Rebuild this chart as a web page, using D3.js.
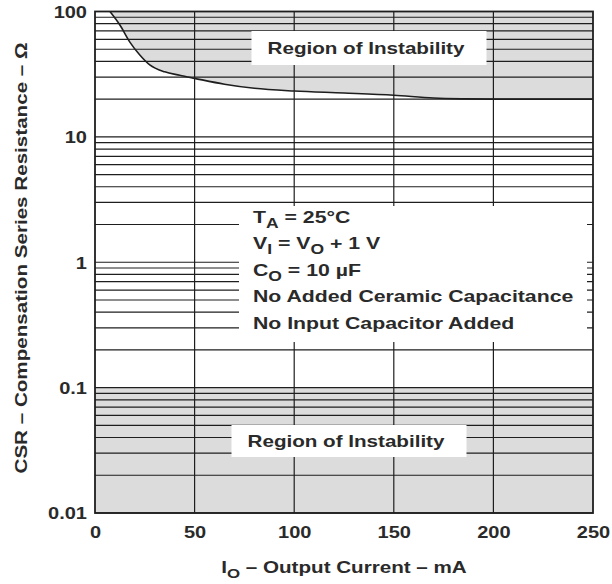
<!DOCTYPE html>
<html>
<head>
<meta charset="utf-8">
<script src="https://cdn.jsdelivr.net/npm/d3@7/dist/d3.min.js"></script>
<style>
  html, body { margin: 0; padding: 0; background: #fff; }
  svg { display: block; }
  text { font-family: "Liberation Sans", Arial, Helvetica, sans-serif; font-weight: bold; fill: #2a2a2a; }
</style>
</head>
<body>
<svg id="chart" width="612" height="584"></svg>
<script>
// ---- data ----
const outputCurrent = [7.5, 12.5, 17.5, 22.5, 27.5, 35, 42.5, 50, 65, 80, 100, 125, 150, 170, 185, 200, 250]; // mA
const csrBoundary   = [100, 78, 57, 45, 37.5, 33, 31, 29.3, 26.3, 24.4, 23.2, 22.4, 21.5, 20.4, 20.1, 20, 20]; // ohm
const lowerInstabilityMax = [0.1];              // CSR below this is unstable
const xTickValues = [0, 50, 100, 150, 200, 250];
const xTickLabels = ["0", "50", "100", "150", "200", "250"];
const yTickValues = [0.01, 0.1, 1, 10, 100];
const yTickLabels = ["0.01", "0.1", "1", "10", "100"];
const conditions = [
  [["T", ""], ["A", "sub"], [" = 25°C", ""]],
  [["V", ""], ["I", "sub"], [" = V", ""], ["O", "sub"], [" + 1 V", ""]],
  [["C", ""], ["O", "sub"], [" = 10 µF", ""]],
  [["No Added Ceramic Capacitance", ""]],
  [["No Input Capacitor Added", ""]]
];
const regionLabel = "Region of Instability";

// ---- layout ----
const L = 95, R = 593, T = 11.5, B = 513;
const SX = 1.25; // horizontal glyph stretch
const svg = d3.select("#chart");
svg.append("rect").attr("width", 612).attr("height", 584).attr("fill", "#fff");

const x = d3.scaleLinear().domain([0, 250]).range([L, R]);
const y = d3.scaleLog().domain([0.01, 100]).range([B, T]);

const gray = "#dcdcdc", ink = "#1e1e1e";

// upper instability region (above curve)
const pts = outputCurrent.map((d, i) => ({ i: d, r: csrBoundary[i] }));
const area = d3.area().x(d => x(d.i)).y0(y(100)).y1(d => y(d.r)).curve(d3.curveMonotoneX);
svg.append("path").datum(pts).attr("d", area).attr("fill", gray);
// lower instability region
svg.append("rect")
  .attr("x", x(0)).attr("width", x(250) - x(0))
  .attr("y", y(lowerInstabilityMax[0])).attr("height", y(0.01) - y(lowerInstabilityMax[0]))
  .attr("fill", gray);

// gridlines
const grid = svg.append("g").attr("stroke", ink).attr("stroke-width", 1.2);
grid.selectAll("line.h").data(y.ticks()).join("line")
  .attr("x1", L).attr("x2", R).attr("y1", d => y(d)).attr("y2", d => y(d));
grid.selectAll("line.v").data(xTickValues.slice(1, -1)).join("line")
  .attr("y1", T).attr("y2", B).attr("x1", d => x(d)).attr("x2", d => x(d));

// white label boxes
svg.append("rect").attr("x", 251.5).attr("y", 31).attr("width", 235).attr("height", 34).attr("fill", "#fff");
svg.append("rect").attr("x", 231.5).attr("y", 425).attr("width", 235).attr("height", 32).attr("fill", "#fff");
svg.append("rect").attr("x", 239).attr("y", 206).attr("width", 348).attr("height", 136).attr("fill", "#fff");

// region labels
function stretchedText(cx, cy, str, size, anchor) {
  return svg.append("text").attr("transform", `translate(${cx},${cy}) scale(${SX},1)`)
    .attr("text-anchor", anchor || "middle").attr("font-size", size).text(str);
}
stretchedText(366, 54, regionLabel, 16.5);
stretchedText(346, 447, regionLabel, 16.5);

// conditions block
const cond = svg.append("g").attr("transform", `translate(253,223) scale(${SX},1)`);
conditions.forEach((line, k) => {
  const t = cond.append("text").attr("x", 0).attr("y", k * 26.5).attr("font-size", 17);
  let inSub = false;
  line.forEach(([s, kind]) => {
    if (kind === "sub") { t.append("tspan").attr("font-size", 14).attr("dy", 5).text(s); inSub = true; }
    else { t.append("tspan").attr("dy", inSub ? -5 : 0).text(s); inSub = false; }
  });
});

// boundary curve
svg.append("path").datum(pts)
  .attr("d", d3.line().x(d => x(d.i)).y(d => y(d.r)).curve(d3.curveMonotoneX))
  .attr("fill", "none").attr("stroke", ink).attr("stroke-width", 1.6);

// frame
svg.append("rect").attr("x", L).attr("y", T).attr("width", R - L).attr("height", B - T)
  .attr("fill", "none").attr("stroke", ink).attr("stroke-width", 1.8);

// axes
const yAxis = svg.append("g").attr("transform", `translate(${L},0)`)
  .call(d3.axisLeft(y).tickValues(yTickValues).tickSize(0).tickFormat((d, i) => yTickLabels[i]));
yAxis.select(".domain").remove();
yAxis.selectAll("text").attr("x", null).attr("dy", "0.36em")
  .attr("transform", `translate(-8,0) scale(${SX},1)`)
  .attr("font-size", 16).attr("font-family", null).attr("fill", null).attr("text-anchor", "end");

const xAxis = svg.append("g").attr("transform", `translate(0,${B})`)
  .call(d3.axisBottom(x).tickValues(xTickValues).tickSize(0).tickFormat((d, i) => xTickLabels[i]));
xAxis.select(".domain").remove();
xAxis.selectAll("text").attr("y", null).attr("dy", null)
  .attr("transform", `translate(0,25) scale(${SX},1)`)
  .attr("font-size", 16).attr("font-family", null).attr("fill", null).attr("text-anchor", "middle");

// axis titles
const xt = svg.append("text").attr("transform", `translate(344,573) scale(${SX},1)`)
  .attr("text-anchor", "middle").attr("font-size", 16.5);
xt.append("tspan").text("I");
xt.append("tspan").attr("font-size", 13.5).attr("dy", 5).text("O");
xt.append("tspan").attr("dy", -5).text(" – Output Current – mA");

svg.append("text").attr("transform", `translate(27,258) rotate(-90) scale(${SX},1)`)
  .attr("text-anchor", "middle").attr("font-size", 16.5)
  .text("CSR – Compensation Series Resistance – Ω");
</script>
</body>
</html>
